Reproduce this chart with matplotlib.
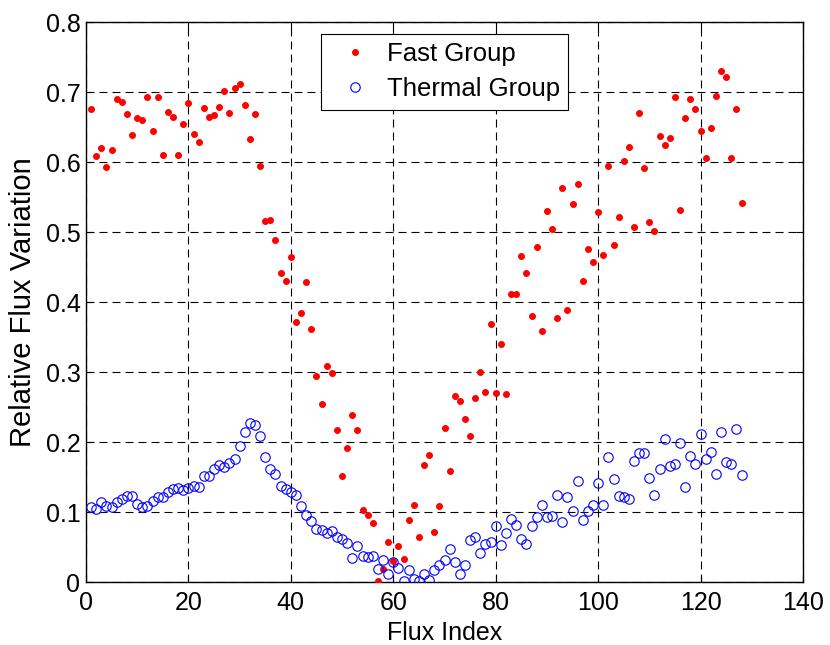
import numpy as np
import matplotlib
matplotlib.use('Agg')
from matplotlib import pyplot as plt

plt.rcParams['font.family'] = ['Liberation Sans', 'DejaVu Sans']

flux_index = np.arange(1, 129)

fast_group = [0.676, 0.608, 0.620, 0.593, 0.617, 0.690, 0.686, 0.669, 0.638, 0.663,
              0.660, 0.693, 0.645, 0.693, 0.610, 0.671, 0.665, 0.610, 0.654, 0.684,
              0.640, 0.629, 0.677, 0.665, 0.667, 0.679, 0.702, 0.670, 0.706, 0.711,
              0.682, 0.633, 0.669, 0.594, 0.516, 0.517, 0.489, 0.441, 0.430, 0.464,
              0.371, 0.384, 0.428, 0.362, 0.295, 0.254, 0.309, 0.299, 0.217, 0.151,
              0.192, 0.238, 0.217, 0.103, 0.096, 0.085, 0.002, 0.018, 0.057, 0.030,
              0.051, 0.033, 0.089, 0.110, 0.064, 0.167, 0.181, 0.071, 0.108, 0.220,
              0.158, 0.266, 0.258, 0.233, 0.208, 0.263, 0.300, 0.272, 0.368, 0.270,
              0.340, 0.268, 0.412, 0.412, 0.466, 0.442, 0.380, 0.478, 0.359, 0.530,
              0.505, 0.377, 0.563, 0.389, 0.540, 0.569, 0.430, 0.476, 0.457, 0.528,
              0.467, 0.594, 0.481, 0.521, 0.601, 0.622, 0.507, 0.670, 0.592, 0.514,
              0.501, 0.637, 0.625, 0.635, 0.693, 0.531, 0.663, 0.690, 0.675, 0.645,
              0.606, 0.649, 0.695, 0.730, 0.721, 0.606, 0.675, 0.542]

thermal_group = [0.107, 0.105, 0.114, 0.109, 0.107, 0.114, 0.118, 0.123, 0.123, 0.111,
                 0.107, 0.109, 0.116, 0.122, 0.121, 0.129, 0.133, 0.134, 0.131, 0.134,
                 0.137, 0.136, 0.151, 0.152, 0.162, 0.167, 0.164, 0.170, 0.176, 0.194,
                 0.214, 0.227, 0.225, 0.209, 0.178, 0.162, 0.154, 0.137, 0.133, 0.129,
                 0.125, 0.109, 0.096, 0.087, 0.076, 0.075, 0.070, 0.073, 0.064, 0.061,
                 0.056, 0.035, 0.051, 0.037, 0.036, 0.037, 0.019, 0.032, 0.012, 0.029,
                 0.020, 0.001, 0.017, 0.004, 0.001, 0.011, 0.003, 0.017, 0.025, 0.031,
                 0.047, 0.028, 0.011, 0.025, 0.060, 0.064, 0.041, 0.055, 0.057, 0.080,
                 0.053, 0.070, 0.090, 0.082, 0.061, 0.054, 0.080, 0.093, 0.110, 0.093,
                 0.094, 0.125, 0.086, 0.121, 0.102, 0.145, 0.088, 0.102, 0.110, 0.141,
                 0.110, 0.178, 0.147, 0.123, 0.121, 0.119, 0.173, 0.184, 0.184, 0.148,
                 0.125, 0.161, 0.205, 0.166, 0.168, 0.198, 0.136, 0.180, 0.168, 0.212,
                 0.176, 0.186, 0.155, 0.214, 0.171, 0.168, 0.219, 0.153]

x_ticks = [0, 20, 40, 60, 80, 100, 120, 140]
y_ticks = [0, 0.1, 0.2, 0.3, 0.4, 0.5, 0.6, 0.7, 0.8]
y_tick_labels = ['0', '0.1', '0.2', '0.3', '0.4', '0.5', '0.6', '0.7', '0.8']

fig = plt.figure(figsize=(8.3, 6.45), dpi=100)
ax = fig.add_axes([86/830, 1-582/645, (803-86)/830, (582-22)/645])

ax.plot(flux_index, fast_group, '.', color='red', markersize=8, label='Fast Group', zorder=3)
ax.plot(flux_index, thermal_group, 'o', markerfacecolor='none', markeredgecolor='blue',
        markersize=6.8, markeredgewidth=0.8, label='Thermal Group', zorder=3)

ax.set_xlim(0, 140)
ax.set_ylim(0, 0.8)
ax.set_xticks(x_ticks)
ax.set_yticks(y_ticks)
ax.set_yticklabels(y_tick_labels)
ax.tick_params(direction='in', top=True, right=True, labelsize=18, length=5, width=0.8)
ax.tick_params(axis='x', pad=6.5)
ax.tick_params(axis='y', pad=4)
ax.grid(True, color='black', linestyle=(0, (7.2, 4.5)), linewidth=0.8)
ax.set_axisbelow(True)
for s in ax.spines.values():
    s.set_linewidth(1.0)

ax.set_xlabel('Flux Index', fontsize=18, labelpad=4)
ax.set_ylabel('Relative Flux Variation', fontsize=21, labelpad=6)

leg = ax.legend(loc='upper center', bbox_to_anchor=(0.5, 1-12/560), borderaxespad=0,
                fontsize=18.5, fancybox=False, framealpha=1, edgecolor='black',
                labelspacing=0.42, handlelength=2.0, handletextpad=0.25, borderpad=0.33)
leg.get_frame().set_linewidth(0.8)

fig.savefig('out.png', dpi=100)
